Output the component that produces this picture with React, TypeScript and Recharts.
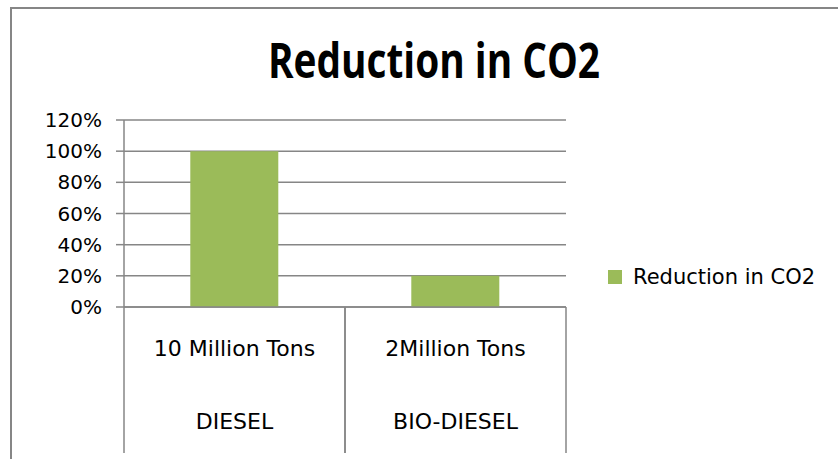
import { BarChart, Bar, XAxis, YAxis, CartesianGrid } from "recharts";

const categories = ["10 Million Tons", "2Million Tons"];
const fuels = ["DIESEL", "BIO-DIESEL"];
const reduction = [1.0, 0.2];
const yTicks = [0, 0.2, 0.4, 0.6, 0.8, 1.0, 1.2];
const seriesName = "Reduction in CO2";
const title = "Reduction in CO2";

const data = categories.map((name, i) => ({
  name,
  fuel: fuels[i],
  value: reduction[i],
}));

const W = 838;
const H = 459;
const MARGIN = { top: 120, right: 272, bottom: 0, left: 0 };
const Y_W = 124;
const X_H = 152;
const GRID = "#868686";
const GREEN = "#9BBB59";
const FONT = "'DejaVu Sans', sans-serif";

const PctTick = ({ x, y, payload }: any) => (
  <text x={x} y={y} dy={7} textAnchor="end" fontFamily={FONT} fontSize={20} fill="#000">
    {Math.round(payload.value * 100)}%
  </text>
);

const CategoryTick = ({ x, y, payload }: any) => {
  const half = (W - MARGIN.left - MARGIN.right - Y_W) / categories.length / 2;
  const row = data.find((d) => d.name === payload.value);
  return (
    <g>
      <line x1={x - half} x2={x - half} y1={y} y2={y + 146} stroke={GRID} strokeWidth={1.5} />
      <line x1={x + half} x2={x + half} y1={y} y2={y + 146} stroke={GRID} strokeWidth={1.5} />
      <text x={x} y={y + 49} textAnchor="middle" fontFamily={FONT} fontSize={22} fill="#000">
        {payload.value}
      </text>
      <text x={x} y={y + 122} textAnchor="middle" fontFamily={FONT} fontSize={22} fill="#000">
        {row?.fuel}
      </text>
    </g>
  );
};

export default function App() {
  return (
    <div
      style={{
        position: "absolute",
        left: 0,
        top: 0,
        width: W,
        height: H,
        overflow: "hidden",
        background: "#fff",
      }}
    >
      {/* outer chart border, only top and left edges are visible */}
      <div
        style={{
          position: "absolute",
          left: 10,
          top: 7,
          width: W + 50,
          height: H + 50,
          borderLeft: `2px solid ${GRID}`,
          borderTop: `2px solid ${GRID}`,
        }}
      />
      <svg width={W} height={100} style={{ position: "absolute", left: 0, top: 0 }}>
        <text
          x={434}
          y={78}
          textAnchor="middle"
          fontFamily="'Open Sans', sans-serif"
          fontWeight="bold"
          fontSize={48}
          textLength={332}
          lengthAdjust="spacingAndGlyphs"
          fill="#000"
        >
          {title}
        </text>
      </svg>
      <div style={{ position: "absolute", left: 0, top: 0 }}>
        <BarChart width={W} height={H} data={data} margin={MARGIN} barCategoryGap="30%">
          <CartesianGrid vertical={false} stroke={GRID} strokeWidth={1.5} />
          <XAxis
            dataKey="name"
            height={X_H}
            interval={0}
            tickSize={0}
            tickMargin={0}
            tickLine={false}
            axisLine={{ stroke: GRID, strokeWidth: 1.5 }}
            tick={<CategoryTick />}
          />
          <YAxis
            width={Y_W}
            domain={[0, 1.2]}
            ticks={yTicks}
            interval={0}
            tickSize={8}
            tickMargin={14}
            tickLine={{ stroke: GRID, strokeWidth: 1.5 }}
            axisLine={{ stroke: GRID, strokeWidth: 1.5 }}
            tick={<PctTick />}
          />
          <Bar dataKey="value" name={seriesName} fill={GREEN} isAnimationActive={false} />
        </BarChart>
      </div>
      <div
        style={{
          position: "absolute",
          left: 608,
          top: 265,
          display: "flex",
          alignItems: "center",
          fontFamily: FONT,
          fontSize: 21,
          color: "#000",
          whiteSpace: "nowrap",
        }}
      >
        <span style={{ width: 14, height: 14, background: GREEN, marginRight: 11, display: "inline-block" }} />
        <span>{seriesName}</span>
      </div>
    </div>
  );
}
